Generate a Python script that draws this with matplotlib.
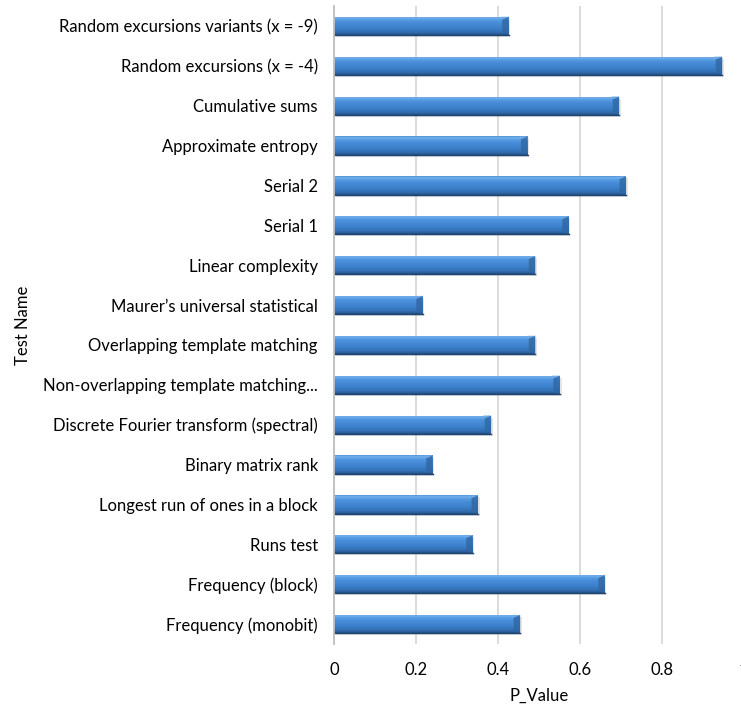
import matplotlib; matplotlib.use('Agg')
import matplotlib.pyplot as plt
import numpy as np
from matplotlib.colors import LinearSegmentedColormap
from matplotlib.patches import Polygon

# NIST test suite results, bottom row first
tests = ['Frequency (monobit)', 'Frequency (block)', 'Runs test',
         'Longest run of ones in a block', 'Binary matrix rank',
         'Discrete Fourier transform (spectral)',
         'Non-overlapping template matching...',
         'Overlapping template matching', 'Maurer\u2019s universal statistical',
         'Linear complexity', 'Serial 1', 'Serial 2', 'Approximate entropy',
         'Cumulative sums', 'Random excursions (x = -4)',
         'Random excursions variants (x = -9)']
p_values = [0.454, 0.661, 0.338, 0.351, 0.240, 0.383, 0.551, 0.491,
            0.216, 0.491, 0.573, 0.713, 0.472, 0.696, 0.948, 0.426]
xticks = [0, 0.2, 0.4, 0.6, 0.8, 1.0]
xticklabels = ['0', '0.2', '0.4', '0.6', '0.8', '1']

plt.rcParams['font.family'] = ['Lato', 'DejaVu Sans']

fig = plt.figure(figsize=(7.41, 7.05), dpi=100)
ax = fig.add_axes([0.4514, 0.0865, 0.5520, 0.905])

y = np.arange(len(tests))
bh = 0.46

# soft drop shadow under each bar
ax.barh(y - 0.05, p_values, height=bh, left=0.004, color='#8c8c8c',
        alpha=0.22, edgecolor='none', zorder=2)

bars = ax.barh(y, p_values, height=bh, color='none', edgecolor='none', zorder=3)

# vertical shading: dark lower edge up to a light top rim
cmap = LinearSegmentedColormap.from_list('bevel', [
    (0.00, '#234c7e'), (0.10, '#2f69aa'), (0.35, '#3c80cb'),
    (0.65, '#488cd8'), (0.82, '#569ce4'), (0.92, '#7cb6ee'),
    (1.00, '#4c8cd2')])
grad = np.linspace(0, 1, 64).reshape(-1, 1)
for rect in bars:
    x0, y0 = rect.get_x(), rect.get_y()
    w, h = rect.get_width(), rect.get_height()
    im = ax.imshow(grad, cmap=cmap, extent=[x0, x0 + w, y0, y0 + h],
                   origin='lower', aspect='auto', interpolation='bicubic', zorder=3)
    im.set_clip_path(rect)
    # bevelled right end
    d = 0.016
    ax.add_patch(Polygon([(x0 + w - d, y0 + h * 0.15), (x0 + w, y0),
                          (x0 + w, y0 + h), (x0 + w - d, y0 + h * 0.85)],
                         closed=True, color='#2f67a3', alpha=0.8, lw=0, zorder=4))
    ax.add_patch(Polygon([(x0 + w - d, y0 + h * 0.85), (x0 + w, y0 + h),
                          (x0 + w - d * 1.2, y0 + h)],
                         closed=True, color='#6fa9e6', lw=0, zorder=4))
    ax.plot([x0, x0 + w], [y0, y0], color='#1f4673', lw=1.0, zorder=4)

ax.set_xlim(0, 1)
ax.set_ylim(-0.5, len(tests) - 0.5)
ax.set_xticks(xticks)
ax.set_xticklabels(xticklabels)
ax.set_yticks(y)
ax.set_yticklabels(tests)
ax.tick_params(axis='both', length=0, labelsize=12.0, colors='#000000')
ax.tick_params(axis='y', pad=12)
ax.tick_params(axis='x', pad=13)

ax.grid(axis='x', color='#d9d9d9', linewidth=1.3, zorder=0)
ax.set_axisbelow(True)
for side in ['top', 'right', 'bottom']:
    ax.spines[side].set_visible(False)
ax.spines['left'].set_color('#bfbfbf')
ax.spines['left'].set_linewidth(1.3)
ax.spines['left'].set_zorder(5)

ax.set_xlabel('P_Value', fontsize=12.0)
ax.xaxis.set_label_coords(0.50, -0.069)
ax.set_ylabel('Test Name', fontsize=12.0)
ax.yaxis.set_label_coords(-0.742, 0.5)

fig.savefig('out.png', dpi=100)
